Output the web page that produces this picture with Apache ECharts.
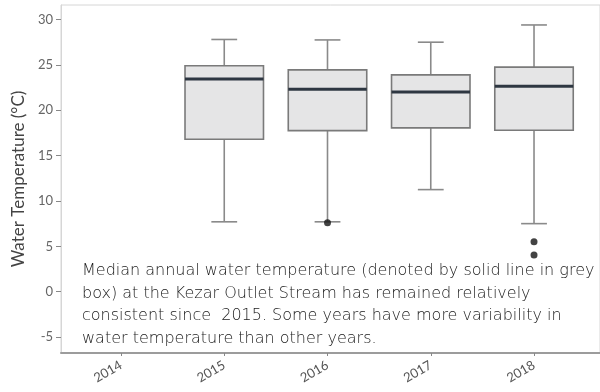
<!DOCTYPE html>
<html>
<head>
<meta charset="utf-8">
<script src="https://cdn.jsdelivr.net/npm/echarts@6/dist/echarts.min.js"></script>
<style>
  html, body { margin: 0; padding: 0; background: #fff; }
  #chart { width: 600px; height: 392px; }
</style>
</head>
<body>
<div id="chart"></div>
<script>
// Annual water temperature summaries, Kezar Outlet Stream (°C)
const years = [2015, 2016, 2017, 2018];
const lowerWhisker = [7.7, 7.7, 11.25, 7.5];
const quartile1 = [16.8, 17.75, 18.05, 17.8];
const medians = [23.45, 22.3, 22.0, 22.65];
const quartile3 = [24.9, 24.45, 23.9, 24.75];
const upperWhisker = [27.8, 27.75, 27.5, 29.4];

// Individual outlying readings
const outlierYears = [2016, 2018, 2018];
const outlierTemps = [7.6, 5.5, 4.05];

// Axis tick labels
const yearTicks = [2014, 2015, 2016, 2017, 2018];
const tempTicks = [-5, 0, 5, 10, 15, 20, 25, 30];

const note = 'Median annual water temperature (denoted by solid line in grey\n' +
  'box) at the Kezar Outlet Stream has remained relatively\n' +
  'consistent since  2015. Some years have more variability in\n' +
  'water temperature than other years.';

const boxRows = years.map((y, i) => [y, lowerWhisker[i], quartile1[i], medians[i], quartile3[i], upperWhisker[i]]);
const outlierRows = outlierYears.map((y, i) => [y, outlierTemps[i]]);

const BOX_SPAN = 0.76;   // box width in x-axis units
const CAP_SPAN = 0.25;   // whisker cap width in x-axis units
const FONT = 'Lato, "Open Sans", sans-serif';
const NOTE_FONT = '"DejaVu Sans", sans-serif';

function renderBox(params, api) {
  const x = api.value(0);
  const low = api.coord([x, api.value(1)]);
  const q1 = api.coord([x, api.value(2)]);
  const med = api.coord([x, api.value(3)]);
  const q3 = api.coord([x, api.value(4)]);
  const high = api.coord([x, api.value(5)]);
  const bw = api.size([BOX_SPAN, 0])[0];
  const cw = api.size([CAP_SPAN, 0])[0];
  const cx = low[0];
  const whisker = { stroke: '#8a8a8a', lineWidth: 1.6 };
  return {
    type: 'group',
    children: [
      { type: 'line', shape: { x1: cx, y1: high[1], x2: cx, y2: q3[1] }, style: whisker },
      { type: 'line', shape: { x1: cx, y1: q1[1], x2: cx, y2: low[1] }, style: whisker },
      { type: 'line', shape: { x1: cx - cw / 2, y1: high[1], x2: cx + cw / 2, y2: high[1] }, style: whisker },
      { type: 'line', shape: { x1: cx - cw / 2, y1: low[1], x2: cx + cw / 2, y2: low[1] }, style: whisker },
      {
        type: 'rect',
        shape: { x: cx - bw / 2, y: q3[1], width: bw, height: q1[1] - q3[1] },
        style: { fill: '#e5e5e6', stroke: '#7a7a7a', lineWidth: 1.6 }
      },
      {
        type: 'line',
        shape: { x1: cx - bw / 2, y1: med[1], x2: cx + bw / 2, y2: med[1] },
        style: { stroke: '#2e3742', lineWidth: 3 }
      }
    ]
  };
}

const chart = echarts.init(document.getElementById('chart'), null, { renderer: 'canvas' });
chart.setOption({
  animation: false,
  backgroundColor: '#ffffff',
  grid: {
    left: 61, top: 5, width: 545, height: 348,
    show: true, borderColor: '#d6d6d6', borderWidth: 1, backgroundColor: 'transparent'
  },
  xAxis: {
    type: 'value',
    min: 2013.419,
    max: 2018.639,
    splitLine: { show: false },
    axisLine: { show: true, onZero: false, lineStyle: { color: '#9c9c9c', width: 2 } },
    axisTick: { show: true, customValues: yearTicks, length: 3, lineStyle: { color: '#888' } },
    axisLabel: {
      customValues: yearTicks, rotate: 30, margin: 11,
      fontFamily: FONT, fontSize: 13, color: '#555',
      formatter: v => String(Math.round(v))
    }
  },
  yAxis: {
    type: 'value',
    min: -6.76,
    max: 31.6,
    name: 'Water Temperature (°C)',
    nameLocation: 'middle',
    nameGap: 31,
    nameTextStyle: { fontFamily: FONT, fontSize: 17, color: '#444' },
    splitLine: { show: false },
    axisLine: { show: true, onZero: false, lineStyle: { color: '#d6d6d6', width: 1 } },
    axisTick: { show: true, customValues: tempTicks, length: 5, lineStyle: { color: '#888' } },
    axisLabel: {
      customValues: tempTicks, margin: 8,
      fontFamily: FONT, fontSize: 13, color: '#666'
    }
  },
  series: [
    {
      type: 'custom',
      renderItem: renderBox,
      data: boxRows,
      encode: { x: 0, y: [1, 2, 3, 4, 5] },
      z: 2
    },
    {
      type: 'scatter',
      data: outlierRows,
      symbol: 'circle',
      symbolSize: 7,
      itemStyle: { color: '#141414' },
      z: 3
    }
  ],
  graphic: [
    {
      type: 'text',
      left: 82,
      top: 260,
      style: {
        text: note,
        fontFamily: NOTE_FONT,
        fontWeight: 200,
        fontSize: 16,
        lineHeight: 22.5,
        fill: '#1a1a1a'
      },
      z: 10
    }
  ]
});
</script>
</body>
</html>
